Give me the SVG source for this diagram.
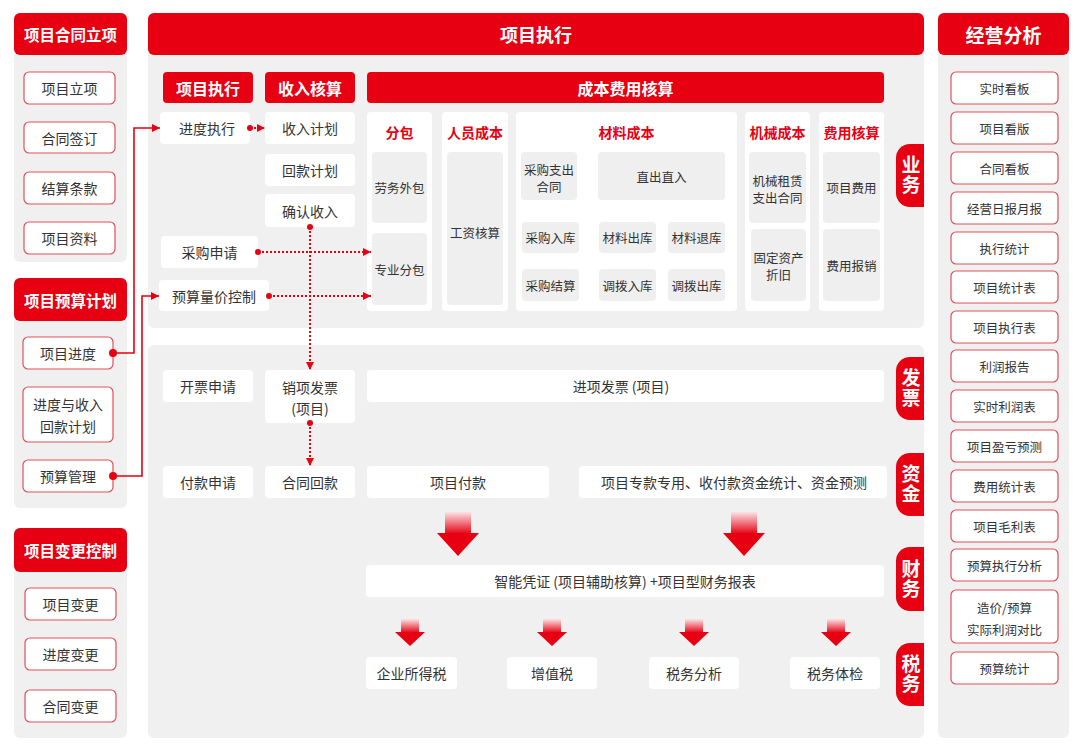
<svg xmlns="http://www.w3.org/2000/svg" width="1080" height="750" viewBox="0 0 1080 750">
<defs>
<style>
.bg{fill:#ffffff}
.panel{fill:#F0F0F0}
.hdr{fill:#E60012}
.wb{fill:#ffffff}
.gb{fill:#EFEFEF}
.ob{fill:#ffffff;stroke:#E2505B;stroke-width:1.2}
text{font-family:"Noto Sans CJK SC","Noto Sans",sans-serif;text-anchor:middle;dominant-baseline:central}
.t{fill:#333333;font-size:14px}
.ts{fill:#333333;font-size:12.5px}
.th{fill:#ffffff;font-weight:bold;font-size:16px}
.tH{fill:#ffffff;font-weight:bold;font-size:18px}
.tc{fill:#E60012;font-weight:bold;font-size:14px}
.tab{fill:#E60012}
.tt{fill:#ffffff;font-weight:bold;font-size:19px;writing-mode:vertical-rl;letter-spacing:1px}
.ln{fill:none;stroke:#E60012;stroke-width:1.6}
.dl{fill:none;stroke:#E60012;stroke-width:2;stroke-dasharray:2 2}
.dot{fill:#E60012}
.ah{fill:#E60012}
</style>
<marker id="arr" viewBox="0 0 8 8" refX="8" refY="4" markerWidth="8" markerHeight="8" markerUnits="userSpaceOnUse" orient="auto">
<path d="M0,0 L8,4 L0,8 Z" fill="#E60012"/>
</marker>
<linearGradient id="shaft" x1="0" y1="0" x2="0" y2="1">
<stop offset="0" stop-color="#FCE3E5"/>
<stop offset="1" stop-color="#E60012"/>
</linearGradient>
</defs>
<rect class="bg" x="0" y="0" width="1080" height="750"/>

<!-- Left column 1 -->
<g id="col-contract">
<rect class="panel" x="14" y="13" width="113" height="249" rx="6"/>
<rect class="hdr" x="14" y="13" width="113" height="42" rx="6"/>
<text class="th" x="70.5" y="34" style="font-size:15.5px">项目合同立项</text>
</g>
<g id="n-xmlx"><rect class="ob" x="24" y="72" width="91" height="32" rx="5"/><text class="t" x="69.5" y="88">项目立项</text></g>
<g id="n-htqd"><rect class="ob" x="24" y="122" width="91" height="31" rx="5"/><text class="t" x="69.5" y="137.5">合同签订</text></g>
<g id="n-jstk"><rect class="ob" x="24" y="172" width="91" height="32" rx="5"/><text class="t" x="69.5" y="188">结算条款</text></g>
<g id="n-xmzl"><rect class="ob" x="24" y="222" width="91" height="32" rx="5"/><text class="t" x="69.5" y="238">项目资料</text></g>

<!-- Left column 2 -->
<g id="col-budget">
<rect class="panel" x="14" y="278" width="113" height="230" rx="6"/>
<rect class="hdr" x="14" y="278" width="113" height="43" rx="6"/>
<text class="th" x="70.5" y="299.5" style="font-size:15.5px">项目预算计划</text>
</g>
<g id="n-xmjd"><rect class="ob" x="23" y="337" width="90" height="32" rx="5"/><text class="t" x="68" y="353">项目进度</text></g>
<g id="n-jdsr"><rect class="ob" x="23" y="387" width="90" height="55" rx="5"/><text class="t" x="68" y="404"><tspan x="68" y="404">进度与收入</tspan><tspan x="68" y="426">回款计划</tspan></text></g>
<g id="n-ysgl"><rect class="ob" x="23" y="460" width="90" height="32" rx="5"/><text class="t" x="68" y="476">预算管理</text></g>

<!-- Left column 3 -->
<g id="col-change">
<rect class="panel" x="14" y="528" width="113" height="210" rx="6"/>
<rect class="hdr" x="14" y="528" width="113" height="44" rx="6"/>
<text class="th" x="70.5" y="550" style="font-size:15.5px">项目变更控制</text>
</g>
<g id="n-xmbg"><rect class="ob" x="25" y="588" width="91" height="32" rx="5"/><text class="t" x="70.5" y="604">项目变更</text></g>
<g id="n-jdbg"><rect class="ob" x="25" y="638" width="91" height="32" rx="5"/><text class="t" x="70.5" y="654">进度变更</text></g>
<g id="n-htbg"><rect class="ob" x="25" y="690" width="91" height="32" rx="5"/><text class="t" x="70.5" y="706">合同变更</text></g>

<!-- Center top -->
<g id="main-header">
<rect class="panel" x="148" y="13" width="776" height="315" rx="6"/>
<rect class="hdr" x="148" y="13" width="776" height="42" rx="6"/>
<text class="tH" x="536" y="34">项目执行</text>
</g>
<g id="h-xmzx"><rect class="hdr" x="163" y="72" width="90" height="31" rx="4"/><text class="th" x="208" y="87.5">项目执行</text></g>
<g id="h-srhs"><rect class="hdr" x="265" y="72" width="90" height="31" rx="4"/><text class="th" x="310" y="87.5">收入核算</text></g>
<g id="h-cbfy"><rect class="hdr" x="367" y="72" width="517" height="31" rx="4"/><text class="th" x="625.5" y="87.5">成本费用核算</text></g>

<g id="n-jdzx"><rect class="wb" x="160" y="112" width="90" height="32" rx="4"/><text class="t" x="207" y="128">进度执行</text></g>
<g id="n-srjh"><rect class="wb" x="265" y="112" width="90" height="32" rx="4"/><text class="t" x="310" y="128">收入计划</text></g>
<g id="n-hkjh"><rect class="wb" x="265" y="154" width="90" height="32" rx="4"/><text class="t" x="310" y="170">回款计划</text></g>
<g id="n-qrsr"><rect class="wb" x="265" y="194" width="90" height="33" rx="4"/><text class="t" x="310" y="210.5">确认收入</text></g>
<g id="n-cgsq"><rect class="wb" x="161" y="236" width="97" height="32" rx="4"/><text class="t" x="209.5" y="252">采购申请</text></g>
<g id="n-yslj"><rect class="wb" x="159" y="280" width="110" height="31" rx="4"/><text class="t" x="214" y="295.5">预算量价控制</text></g>

<g id="c-fb">
<rect class="wb" x="367" y="112" width="65" height="199" rx="4"/>
<text class="tc" x="399.5" y="132">分包</text>
<rect class="gb" x="372" y="152" width="55" height="71" rx="4"/><text class="ts" x="399.5" y="187.5">劳务外包</text>
<rect class="gb" x="372" y="233" width="55" height="72" rx="4"/><text class="ts" x="399.5" y="269">专业分包</text>
</g>
<g id="c-rycb">
<rect class="wb" x="442" y="112" width="66" height="199" rx="4"/>
<text class="tc" x="475" y="132">人员成本</text>
<rect class="gb" x="447" y="152" width="56" height="153" rx="4"/><text class="ts" x="475" y="232">工资核算</text>
</g>
<g id="c-clcb">
<rect class="wb" x="516" y="112" width="221" height="199" rx="4"/>
<text class="tc" x="626.5" y="132">材料成本</text>
<rect class="gb" x="521" y="152" width="56" height="48" rx="4"/><text class="ts" x="549" y="169"><tspan x="549" y="168.5">采购支出</tspan><tspan x="549" y="185.5">合同</tspan></text>
<rect class="gb" x="598" y="152" width="127" height="48" rx="4"/><text class="ts" x="661.5" y="176">直出直入</text>
<rect class="gb" x="522" y="222" width="57" height="31" rx="4"/><text class="ts" x="550.5" y="237.5">采购入库</text>
<rect class="gb" x="599" y="222" width="57" height="31" rx="4"/><text class="ts" x="627.5" y="237.5">材料出库</text>
<rect class="gb" x="668" y="222" width="57" height="31" rx="4"/><text class="ts" x="696.5" y="237.5">材料退库</text>
<rect class="gb" x="522" y="269" width="57" height="32" rx="4"/><text class="ts" x="550.5" y="285">采购结算</text>
<rect class="gb" x="599" y="269" width="57" height="32" rx="4"/><text class="ts" x="627.5" y="285">调拨入库</text>
<rect class="gb" x="668" y="269" width="57" height="32" rx="4"/><text class="ts" x="696.5" y="285">调拨出库</text>
</g>
<g id="c-jxcb">
<rect class="wb" x="745" y="112" width="65" height="199" rx="4"/>
<text class="tc" x="777.5" y="132">机械成本</text>
<rect class="gb" x="749" y="152" width="57" height="71" rx="4"/><text class="ts" x="777.5" y="180"><tspan x="777.5" y="179.5">机械租赁</tspan><tspan x="777.5" y="196.5">支出合同</tspan></text>
<rect class="gb" x="751" y="229" width="55" height="72" rx="4"/><text class="ts" x="778.5" y="257"><tspan x="778.5" y="256.5">固定资产</tspan><tspan x="778.5" y="273.5">折旧</tspan></text>
</g>
<g id="c-fyhs">
<rect class="wb" x="819" y="112" width="65" height="199" rx="4"/>
<text class="tc" x="851.5" y="132">费用核算</text>
<rect class="gb" x="823" y="152" width="57" height="71" rx="4"/><text class="ts" x="851.5" y="187.5">项目费用</text>
<rect class="gb" x="823" y="229" width="57" height="72" rx="4"/><text class="ts" x="851.5" y="265">费用报销</text>
</g>
<g id="tab-yw"><path class="tab" d="M924,144 H910 A14,14 0 0 0 896,158 V193 A14,14 0 0 0 910,207 H924 Z"/><text class="tt" x="911" y="175.5">业务</text></g>

<!-- Center lower -->
<g id="lower-panel"><rect class="panel" x="148" y="345" width="776" height="393" rx="6"/></g>
<g id="n-kpsq"><rect class="wb" x="163" y="370" width="90" height="32" rx="4"/><text class="t" x="208" y="386">开票申请</text></g>
<g id="n-xxfp"><rect class="wb" x="265" y="370" width="90" height="53" rx="4"/><text class="t" x="310" y="387"><tspan x="310" y="387">销项发票</tspan><tspan x="310" y="408">(项目)</tspan></text></g>
<g id="n-jxfp"><rect class="wb" x="367" y="370" width="517" height="32" rx="4"/><text class="t" x="621" y="386">进项发票 (项目)</text></g>
<g id="tab-fp"><path class="tab" d="M924,357 H910 A14,14 0 0 0 896,371 V406 A14,14 0 0 0 910,420 H924 Z"/><text class="tt" x="911" y="388.5">发票</text></g>

<g id="n-fksq"><rect class="wb" x="163" y="466" width="90" height="32" rx="4"/><text class="t" x="208" y="482">付款申请</text></g>
<g id="n-hthk"><rect class="wb" x="265" y="466" width="90" height="32" rx="4"/><text class="t" x="310" y="482">合同回款</text></g>
<g id="n-xmfk"><rect class="wb" x="367" y="466" width="182" height="32" rx="4"/><text class="t" x="458" y="482">项目付款</text></g>
<g id="n-zjtj"><rect class="wb" x="579" y="466" width="308" height="32" rx="4"/><text class="t" x="734" y="482">项目专款专用、收付款资金统计、资金预测</text></g>
<g id="tab-zj"><path class="tab" d="M924,453 H910 A14,14 0 0 0 896,467 V502 A14,14 0 0 0 910,516 H924 Z"/><text class="tt" x="911" y="484.5">资金</text></g>

<g id="n-znpz"><rect class="wb" x="366" y="565" width="518" height="32" rx="4"/><text class="t" x="625" y="581">智能凭证 (项目辅助核算) +项目型财务报表</text></g>
<g id="tab-cw"><path class="tab" d="M924,547 H910 A14,14 0 0 0 896,561 V597 A14,14 0 0 0 910,611 H924 Z"/><text class="tt" x="911" y="579">财务</text></g>

<g id="n-qysds"><rect class="wb" x="366" y="657" width="91" height="32" rx="4"/><text class="t" x="411.5" y="673">企业所得税</text></g>
<g id="n-zzs"><rect class="wb" x="507" y="657" width="90" height="32" rx="4"/><text class="t" x="552" y="673">增值税</text></g>
<g id="n-swfx"><rect class="wb" x="649" y="657" width="90" height="32" rx="4"/><text class="t" x="694" y="673">税务分析</text></g>
<g id="n-swtj"><rect class="wb" x="790" y="657" width="90" height="32" rx="4"/><text class="t" x="835" y="673">税务体检</text></g>
<g id="tab-sw"><path class="tab" d="M924,643 H910 A14,14 0 0 0 896,657 V692 A14,14 0 0 0 910,706 H924 Z"/><text class="tt" x="911" y="674.5">税务</text></g>

<!-- Right column -->
<g id="col-analysis">
<rect class="panel" x="938" y="13" width="131" height="725" rx="6"/>
<rect class="hdr" x="938" y="13" width="131" height="42" rx="6"/>
<text class="tH" x="1003.5" y="34" style="font-size:19px">经营分析</text>
</g>
<g id="r1"><rect class="ob" x="951" y="72" width="107" height="32" rx="5"/><text class="ts" x="1004.5" y="88">实时看板</text></g>
<g id="r2"><rect class="ob" x="951" y="112" width="107" height="32" rx="5"/><text class="ts" x="1004.5" y="128">项目看版</text></g>
<g id="r3"><rect class="ob" x="951" y="152" width="107" height="32" rx="5"/><text class="ts" x="1004.5" y="168">合同看板</text></g>
<g id="r4"><rect class="ob" x="951" y="192" width="107" height="32" rx="5"/><text class="ts" x="1004.5" y="208">经营日报月报</text></g>
<g id="r5"><rect class="ob" x="951" y="232" width="107" height="32" rx="5"/><text class="ts" x="1004.5" y="248">执行统计</text></g>
<g id="r6"><rect class="ob" x="951" y="271" width="107" height="32" rx="5"/><text class="ts" x="1004.5" y="287">项目统计表</text></g>
<g id="r7"><rect class="ob" x="951" y="311" width="107" height="32" rx="5"/><text class="ts" x="1004.5" y="327">项目执行表</text></g>
<g id="r8"><rect class="ob" x="951" y="350" width="107" height="32" rx="5"/><text class="ts" x="1004.5" y="366">利润报告</text></g>
<g id="r9"><rect class="ob" x="951" y="390" width="107" height="32" rx="5"/><text class="ts" x="1004.5" y="406">实时利润表</text></g>
<g id="r10"><rect class="ob" x="951" y="430" width="107" height="32" rx="5"/><text class="ts" x="1004.5" y="446">项目盈亏预测</text></g>
<g id="r11"><rect class="ob" x="951" y="470" width="107" height="32" rx="5"/><text class="ts" x="1004.5" y="486">费用统计表</text></g>
<g id="r12"><rect class="ob" x="951" y="510" width="107" height="32" rx="5"/><text class="ts" x="1004.5" y="526">项目毛利表</text></g>
<g id="r13"><rect class="ob" x="951" y="549" width="107" height="32" rx="5"/><text class="ts" x="1004.5" y="565">预算执行分析</text></g>
<g id="r14"><rect class="ob" x="951" y="590" width="107" height="53" rx="5"/><text class="ts" x="1004.5" y="607"><tspan x="1004.5" y="607">造价/预算</tspan><tspan x="1004.5" y="629">实际利润对比</tspan></text></g>
<g id="r15"><rect class="ob" x="951" y="652" width="107" height="32" rx="5"/><text class="ts" x="1004.5" y="668">预算统计</text></g>

<!-- Connectors -->
<g id="connectors">
<path class="ln" d="M113,353 H134 V128 H160" marker-end="url(#arr)"/>
<circle class="dot" cx="113" cy="353" r="4"/>
<path class="ln" d="M113,476 H142 V296 H159" marker-end="url(#arr)"/>
<circle class="dot" cx="113" cy="476" r="4"/>
<path class="dl" d="M250,128 H265" marker-end="url(#arr)"/>
<circle class="dot" cx="250" cy="128" r="3"/>
<path class="dl" d="M258,252 H371" marker-end="url(#arr)"/>
<circle class="dot" cx="258" cy="252" r="3"/>
<path class="dl" d="M269,296 H371" marker-end="url(#arr)"/>
<circle class="dot" cx="269" cy="296" r="3"/>
<path class="dl" d="M310,227 V370" marker-end="url(#arr)"/>
<circle class="dot" cx="310" cy="227" r="3"/>
<path class="dl" d="M310,423 V466" marker-end="url(#arr)"/>
<circle class="dot" cx="310" cy="423" r="3"/>

<rect x="445" y="512" width="26" height="22" fill="url(#shaft)"/>
<polygon class="ah" points="437,533 479,533 458,556"/>
<rect x="731" y="512" width="26" height="22" fill="url(#shaft)"/>
<polygon class="ah" points="723,533 765,533 744,556"/>

<rect x="401" y="619" width="18" height="14" fill="url(#shaft)"/>
<polygon class="ah" points="395,632 425,632 410,646"/>
<rect x="543" y="619" width="18" height="14" fill="url(#shaft)"/>
<polygon class="ah" points="537,632 567,632 552,646"/>
<rect x="685" y="619" width="18" height="14" fill="url(#shaft)"/>
<polygon class="ah" points="679,632 709,632 694,646"/>
<rect x="827" y="619" width="18" height="14" fill="url(#shaft)"/>
<polygon class="ah" points="821,632 851,632 836,646"/>
</g>
</svg>
